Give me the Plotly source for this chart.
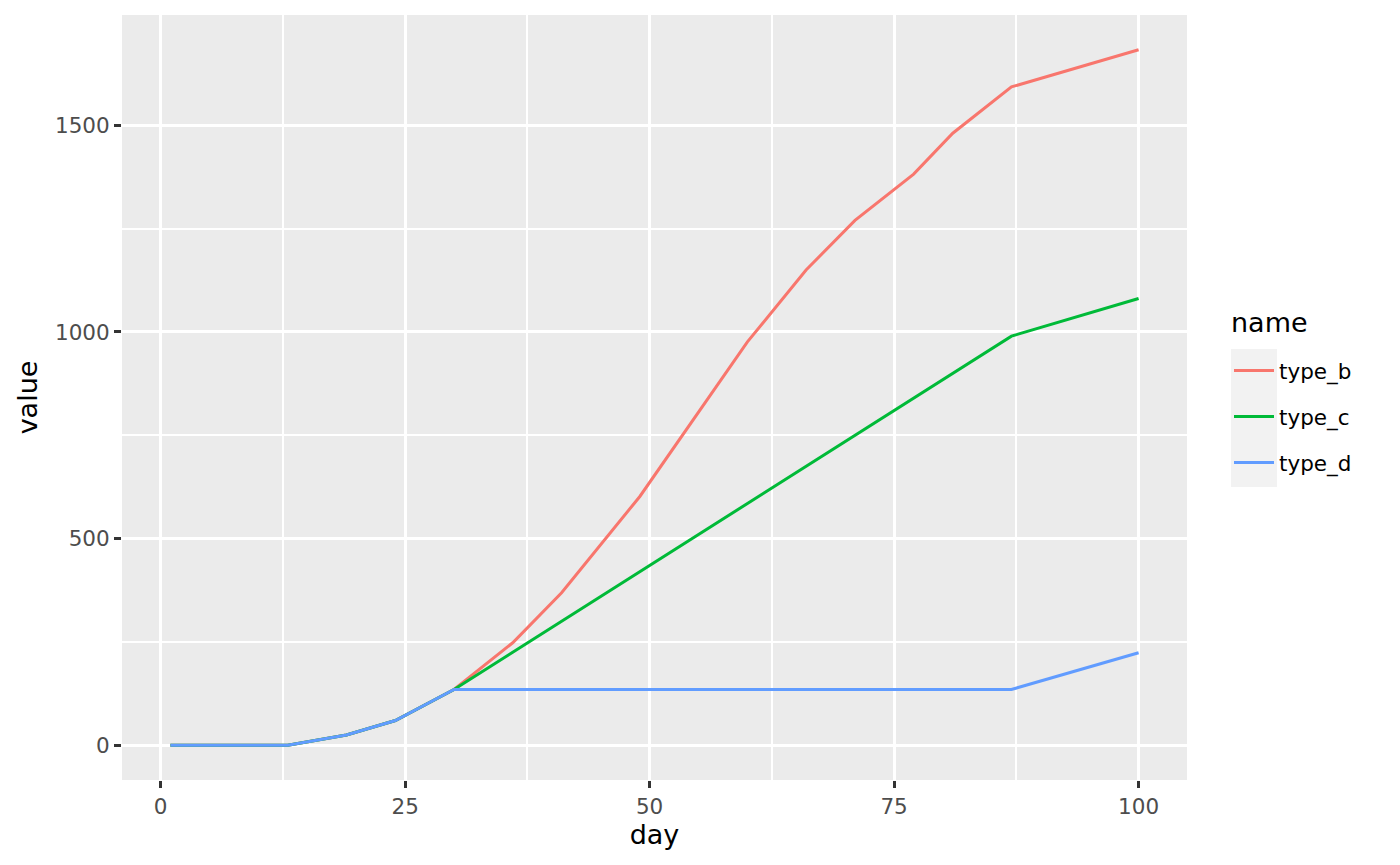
import plotly.graph_objects as go

days = [1, 13, 19, 24, 30, 36, 41, 49, 60, 66, 71, 77, 81, 87, 100]
type_b = [0, 0, 25, 60, 135, 248, 369, 602, 976, 1150, 1270, 1382, 1481, 1593, 1683]
type_c = [0, 0, 25, 60, 135, 225, 300, 420, 585, 675, 750, 840, 900, 990, 1081]
type_d = [0, 0, 25, 60, 135, 135, 135, 135, 135, 135, 135, 135, 135, 135, 224]

x_ticks = [0, 25, 50, 75, 100]
y_ticks = [0, 500, 1000, 1500]

series = [
    ('type_b', type_b, '#F8766D'),
    ('type_c', type_c, '#00BA38'),
    ('type_d', type_d, '#619CFF'),
]

# panel sits at 122..1187 x 15..780 in the screenshot
def px_x(X):
    return (X - 122) / 1065


def px_y(Y):
    return (780 - Y) / 765


fig = go.Figure()
for name, vals, color in series:
    fig.add_trace(go.Scatter(
        x=days, y=vals, mode='lines', name=name, legendgroup=name,
        line=dict(color=color, width=3),
    ))

# grey panel behind the legend keys, like ggplot
fig.add_shape(type='rect', xref='paper', yref='paper',
              x0=px_x(1231), x1=px_x(1277), y0=px_y(487), y1=px_y(349),
              fillcolor='#F2F2F2', line_width=0, layer='below')

# legend title as annotation (plotly's own title sits too close to the keys)
fig.add_annotation(text='name', xref='paper', yref='paper',
                   x=px_x(1229), y=px_y(322), xanchor='left', yanchor='middle',
                   showarrow=False,
                   font=dict(family='DejaVu Sans', size=27, color='black'))

axis_common = dict(
    showgrid=True, gridcolor='white', gridwidth=3, zeroline=False,
    ticks='outside', ticklen=7, tickwidth=2.7, tickcolor='#333333',
    tickfont=dict(family='DejaVu Sans', size=21.5, color='#4D4D4D'),
    showline=False,
)
fig.update_xaxes(
    **axis_common, range=[-3.95, 104.95], tickvals=x_ticks,
    title=dict(text='day', font=dict(family='DejaVu Sans', size=27, color='black'), standoff=4),
    minor=dict(tickvals=[12.5, 37.5, 62.5, 87.5], ticks='', showgrid=True,
               gridcolor='white', gridwidth=1.5),
)
fig.update_yaxes(
    **axis_common, range=[-84, 1767], tickvals=y_ticks,
    title=dict(text='value', font=dict(family='DejaVu Sans', size=27, color='black'), standoff=9),
    minor=dict(tickvals=[250, 750, 1250], ticks='', showgrid=True,
               gridcolor='white', gridwidth=1.5),
)

# the page body adds 8px, so margins are shifted to compensate
fig.update_layout(
    width=1400, height=865,
    margin=dict(l=114, r=221, t=7, b=93),
    plot_bgcolor='#EBEBEB', paper_bgcolor='white',
    legend=dict(
        font=dict(family='DejaVu Sans', size=21.5, color='black'),
        x=px_x(1229), xanchor='left', y=px_y(350), yanchor='top',
        bgcolor='rgba(0,0,0,0)', tracegroupgap=15, traceorder='grouped',
        itemwidth=40,
    ),
)

fig.write_html('out.html')
